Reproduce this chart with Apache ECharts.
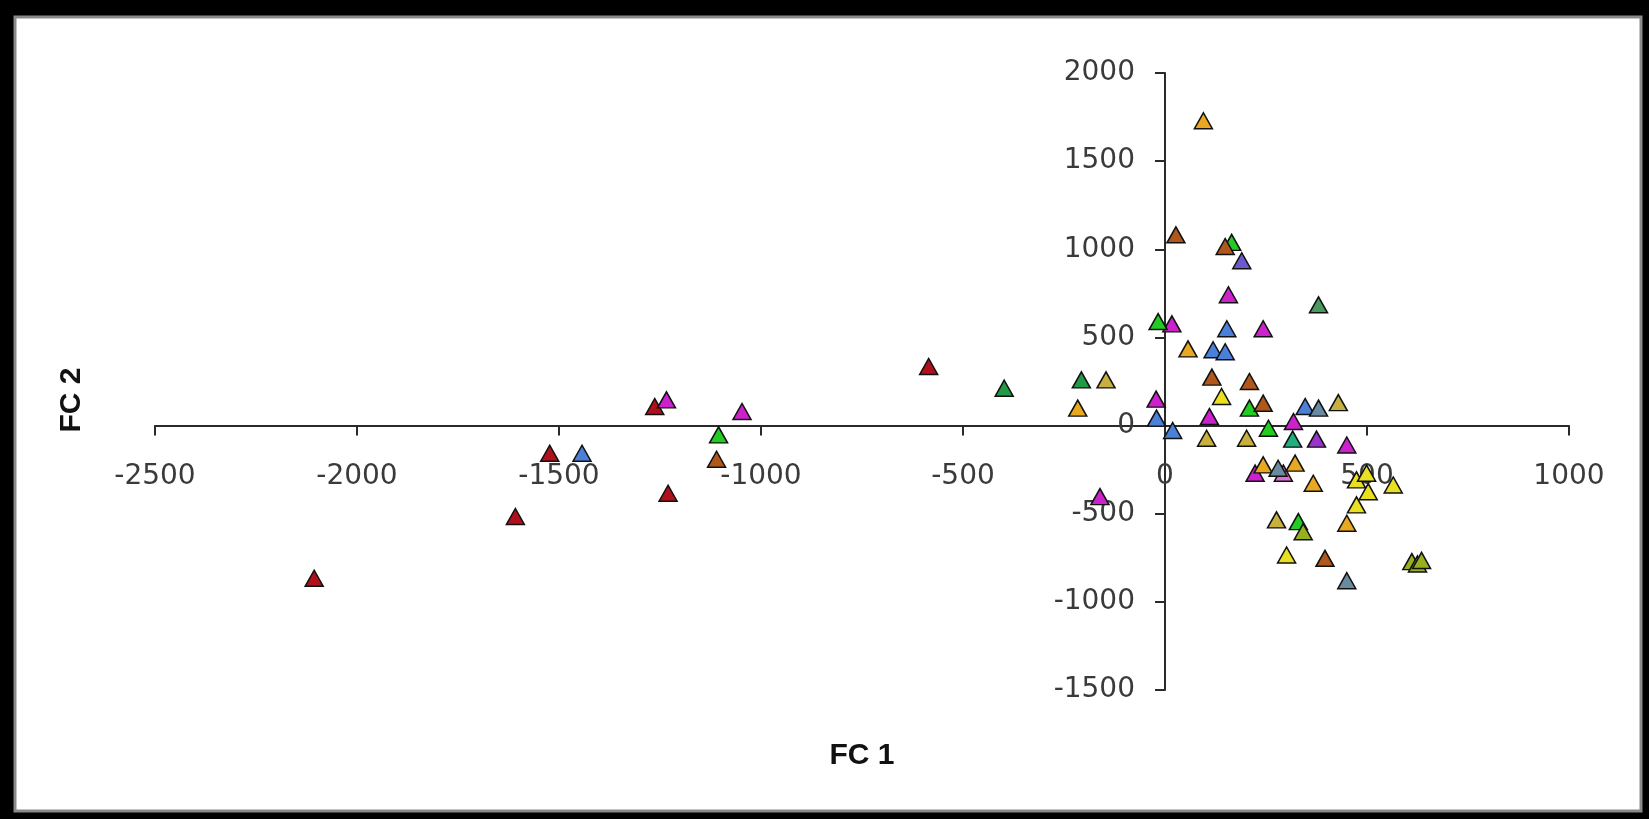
<!DOCTYPE html>
<html>
<head>
<meta charset="utf-8">
<script src="https://cdn.jsdelivr.net/npm/echarts@6/dist/echarts.min.js"></script>
<style>
html,body{margin:0;padding:0;background:#000;}
#chart{position:absolute;left:0;top:0;width:1649px;height:819px;}
</style>
</head>
<body>
<div id="chart"></div>
<script>
// Axis ticks
const xTicks = [-2500, -2000, -1500, -1000, -500, 0, 500, 1000];
const yTicks = [-1500, -1000, -500, 0, 500, 1000, 1500, 2000];
const xTitle = 'FC 1';
const yTitle = 'FC 2';

// Point groups [FC1, FC2]
const redPts = [[-2106,-866],[-1608,-516],[-1523,-157],[-1230,-384],[-585,335],[-1263,108]];
const bluePts = [[-1443,-157],[153,549],[119,430],[149,419],[347,108],[-21,42],[19,-28]];
const indigoPts = [[190,935]];
const magentaPts = [[-1234,146],[-1047,80],[157,742],[17,577],[243,549],[-22,150],[110,51],[318,23],[450,-110],[223,-270],[-161,-403]];
const pinkPts = [[293,-270]];
const purplePts = [[375,-77]];
const greenPts = [[-1105,-53],[165,1039],[-17,590],[209,99],[256,-15],[330,-545]];
const darkGreenPts = [[-398,212],[-207,259]];
const seaGreenPts = [[316,-77]];
const brownPts = [[-1110,-191],[27,1082],[149,1016],[116,275],[209,250],[243,127],[396,-753]];
const orangePts = [[95,1729],[57,435],[-216,99],[243,-223],[322,-213],[367,-327],[450,-554]];
const yellowPts = [[140,165],[301,-734],[474,-308],[499,-270],[503,-375],[565,-337],[474,-450]];
const olivePts = [[-146,259],[103,-72],[202,-72],[429,130],[276,-535]];
const grayTealPts = [[380,99],[280,-242],[450,-880]];
const tealPts = [[380,685]];
const yellowGreenPts = [[342,-602],[611,-772],[625,-785],[635,-765]];

const groups = [
  {name:'G1', data:redPts, color:'#b0101c'},
  {name:'G2', data:bluePts, color:'#4a80d8'},
  {name:'G3', data:indigoPts, color:'#6a5acd'},
  {name:'G4', data:magentaPts, color:'#cc22cc'},
  {name:'G5', data:pinkPts, color:'#e070d0'},
  {name:'G6', data:purplePts, color:'#9933cc'},
  {name:'G7', data:greenPts, color:'#22cc22'},
  {name:'G8', data:darkGreenPts, color:'#229944'},
  {name:'G9', data:seaGreenPts, color:'#20b080'},
  {name:'G10', data:brownPts, color:'#b0581c'},
  {name:'G11', data:orangePts, color:'#e8a820'},
  {name:'G12', data:yellowPts, color:'#e8e020'},
  {name:'G13', data:olivePts, color:'#c8b040'},
  {name:'G14', data:grayTealPts, color:'#6a8aa0'},
  {name:'G15', data:tealPts, color:'#4a9a60'},
  {name:'G16', data:yellowGreenPts, color:'#98b020'}
];

const chart = echarts.init(document.getElementById('chart'));
const axisCol = '#2a2a2a';
const labelStyle = {fontFamily:'DejaVu Sans', fontSize:28, color:'#3a3a3a', formatter: v => String(v), hideOverlap:false};

// grid geometry (page pixels)
const G = {left:155, right:80, top:73, bottom:129};
const plotW = 1649 - G.left - G.right, plotH = 819 - G.top - G.bottom;
const xZeroPx = plotW * (0 - xTicks[0]) / (xTicks[xTicks.length-1] - xTicks[0]);
const yZeroPx = plotH * (0 - yTicks[0]) / (yTicks[yTicks.length-1] - yTicks[0]);

chart.setOption({
  animation:false,
  backgroundColor:'#000',
  graphic:[{
    type:'rect', z:-10, silent:true,
    shape:{x:15, y:17, width:1626, height:794},
    style:{fill:'#fff', stroke:'#8a8a8a', lineWidth:3}
  }],
  grid:{left:G.left, right:G.right, top:G.top, bottom:G.bottom, containLabel:false, outerBoundsMode:'none'},
  xAxis:{
    type:'value', min:xTicks[0], max:xTicks[xTicks.length-1], interval:500,
    position:'bottom', offset:-yZeroPx,
    splitLine:{show:false},
    axisLine:{onZero:false, lineStyle:{color:axisCol, width:2}},
    axisTick:{show:true, length:10, lineStyle:{color:axisCol, width:2}},
    axisLabel:Object.assign({margin:37}, labelStyle),
    name:xTitle, nameLocation:'middle', nameGap:315,
    nameTextStyle:{fontFamily:'Liberation Sans', fontSize:30, fontWeight:'bold', color:'#111'}
  },
  yAxis:{
    type:'value', min:yTicks[0], max:yTicks[yTicks.length-1], interval:500,
    position:'left', offset:-xZeroPx,
    splitLine:{show:false},
    axisLine:{onZero:false, lineStyle:{color:axisCol, width:2}},
    axisTick:{show:true, length:10, lineStyle:{color:axisCol, width:2}},
    axisLabel:Object.assign({margin:30}, labelStyle),
    name:yTitle, nameLocation:'middle', nameGap:1078,
    nameTextStyle:{fontFamily:'Liberation Sans', fontSize:30, fontWeight:'bold', color:'#111', padding:[0,37,0,0]}
  },
  series: groups.map(g => ({
    type:'scatter', name:g.name, data:g.data,
    symbol:'triangle', symbolSize:[18,16],
    itemStyle:{color:g.color, borderColor:'#111', borderWidth:1.5, opacity:1}
  }))
});
</script>
</body>
</html>
